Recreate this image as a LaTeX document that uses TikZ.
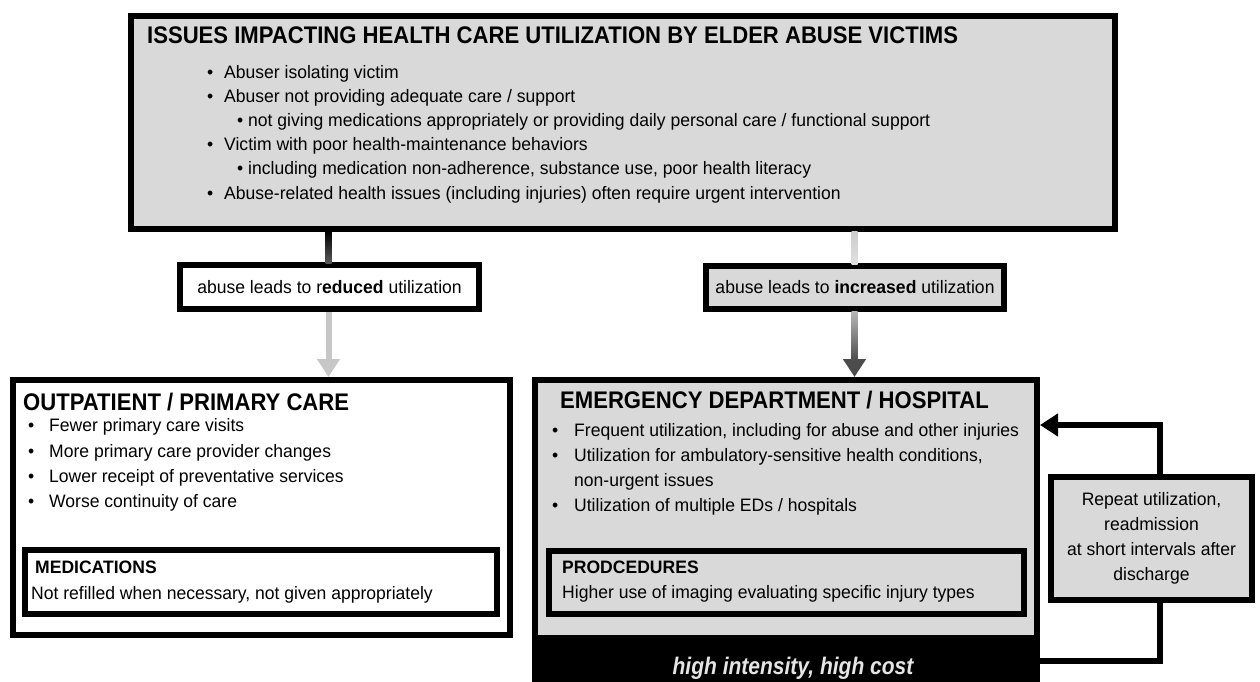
\documentclass[tikz,border=0pt]{standalone}
\usepackage{fontspec}
\setmainfont{Liberation Sans}[FakeStretch=0.975]
\newfontfamily\headfont{Liberation Sans}[FakeStretch=0.92]
\newfontfamily\costfont{Liberation Sans}[FakeStretch=0.875]
\usetikzlibrary{positioning,calc,arrows.meta}
\definecolor{boxgray}{RGB}{217,217,217}
\tikzset{
  box/.style={draw, line width=6pt, inner sep=0pt},
  graybox/.style={box, fill=boxgray},
  whitebox/.style={box, fill=white},
  txt/.style={anchor=base west, inner sep=0pt, font=\fontsize{18}{25}\selectfont},
  head/.style={anchor=base west, inner sep=0pt, font=\headfont\fontsize{24}{28}\selectfont\bfseries},
  sub/.style={anchor=base west, inner sep=0pt, font=\fontsize{18}{22}\selectfont\bfseries},
  arr/.style={line width=6pt, -{Triangle[length=18pt,width=22pt]}}
}
\newcommand{\bul}[1]{\makebox[#1][l]{\textbullet}}
\begin{document}
\begin{tikzpicture}[x=1pt, y=-1pt]
\useasboundingbox (0,0) rectangle (1260,682);
% boxes
\node[graybox, minimum width=984, minimum height=213] (issues) at (623,122.5) {};
\node[whitebox, minimum width=299, minimum height=44] (reduced) at (329.5,287)
  {\fontsize{18}{22}\selectfont abuse leads to r\textbf{educed} utilization};
\node[graybox, minimum width=298, minimum height=43] (increased) at (855,287.5)
  {\fontsize{18}{22}\selectfont abuse leads to \textbf{increased} utilization};
\node[whitebox, minimum width=497, minimum height=255] (outpatient) at (261.5,507.5) {};
\node[whitebox, minimum width=472, minimum height=64] (meds) at (261,582) {};
\node[graybox, minimum width=502, minimum height=299] (ed) at (786,529.5) {};
\node[fill=black, inner sep=0pt, minimum width=508, minimum height=47, anchor=south] (cost) at (ed.south) {};
\node[anchor=base, inner sep=0pt, text=white!90!black,
  font=\costfont\fontsize{24}{28}\selectfont\bfseries\itshape] (costtext) at (793,674)
  {high intensity, high cost};
\node[graybox, minimum width=475, minimum height=63] (procs) at (786.5,582.5) {};
\node[graybox, minimum width=201, minimum height=123, align=center,
  font=\fontsize{18}{25}\selectfont] (repeat) at (1151.5,538.5)
  {Repeat utilization,\\readmission\\at short intervals after\\discharge};

% top box text
\node[head] (issuestitle) at (147,43.5) {ISSUES IMPACTING HEALTH CARE UTILIZATION BY ELDER ABUSE VICTIMS};
\node[txt] (iss1) at (207,78.5) {\bul{17pt}Abuser isolating victim};
\node[txt] (iss2) at (207,102.5) {\bul{17pt}Abuser not providing adequate care / support};
\node[txt] (iss3) at (237,126.5) {\textbullet\ not giving medications appropriately or providing daily personal care / functional support};
\node[txt] (iss4) at (207,150.5) {\bul{17pt}Victim with poor health-maintenance behaviors};
\node[txt] (iss5) at (237,174.5) {\textbullet\ including medication non-adherence, substance use, poor health literacy};
\node[txt] (iss6) at (207,199.5) {\bul{17pt}Abuse-related health issues (including injuries) often require urgent intervention};

% outpatient text
\node[head] (optitle) at (23,410) {OUTPATIENT / PRIMARY CARE};
\node[txt] (op1) at (28,431.5) {\bul{21pt}Fewer primary care visits};
\node[txt] (op2) at (28,457) {\bul{21pt}More primary care provider changes};
\node[txt] (op3) at (28,482.5) {\bul{21pt}Lower receipt of preventative services};
\node[txt] (op4) at (28,507.5) {\bul{21pt}Worse continuity of care};
\node[sub] (medstitle) at (35,573.5) {MEDICATIONS};
\node[txt] (meds1) at (31,599.5) {Not refilled when necessary, not given appropriately};

% ED text
\node[head] (edtitle) at (560,408.5) {EMERGENCY DEPARTMENT / HOSPITAL};
\node[txt] (ed1) at (552,436.5) {\bul{22pt}Frequent utilization, including for abuse and other injuries};
\node[txt] (ed2) at (552,461.5) {\bul{22pt}Utilization for ambulatory-sensitive health conditions,};
\node[txt] (ed3) at (574,486.5) {non-urgent issues};
\node[txt] (ed4) at (552,511.5) {\bul{22pt}Utilization of multiple EDs / hospitals};
\node[sub] (procstitle) at (562,573.5) {PRODCEDURES};
\node[txt] (procs1) at (562,598.5) {Higher use of imaging evaluating specific injury types};

% connectors
\coordinate (lx) at (328.5,0);
\coordinate (rx) at (854.5,0);
\shade[top color=black, bottom color=black!65] ($(issues.south -| lx)+(-3,-1)$) rectangle ($(reduced.north -| lx)+(3,1)$);
\draw[arr, draw=black!22, fill=black!20] (reduced.south -| lx) -- (outpatient.north -| lx);
\shade[top color=black!20, bottom color=black!12] ($(issues.south -| rx)+(-3,-1)$) rectangle ($(increased.north -| rx)+(3,1)$);
\draw[arr, draw=black!70, fill=black!70] (increased.south -| rx) -- (ed.north -| rx);
\shade[top color=black!28, bottom color=black!70] ($(increased.south -| rx)+(-3,-1)$) rectangle ($(ed.north -| rx)+(3,-17)$);

% loop back
\coordinate (loopx) at (1160,425);
\draw[line width=6pt] ($(cost.east)+(-1,3)$) -| (repeat.south -| loopx);
\draw[arr] (repeat.north -| loopx) -- (loopx) -- (loopx -| ed.east);
\end{tikzpicture}
\end{document}
